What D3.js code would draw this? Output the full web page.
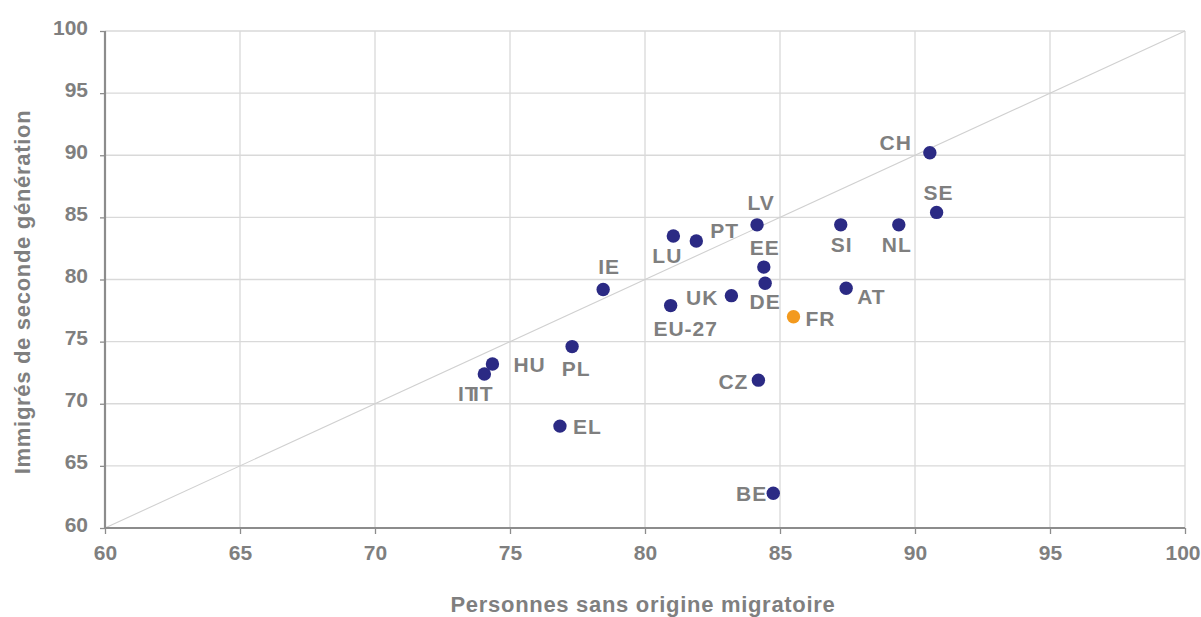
<!DOCTYPE html>
<html>
<head>
<meta charset="utf-8">
<script src="https://cdn.jsdelivr.net/npm/d3@7"></script>
<style>
  body { margin: 0; background: #fff; }
  text { font-family: "Liberation Sans", Arial, sans-serif; font-weight: bold; fill: #7f7f7f; }
</style>
</head>
<body>
<div id="wrapper"></div>
<script>
// data
const countries = ["CH", "SE", "NL", "SI", "LV", "PT", "LU", "EE", "DE", "IE", "AT", "UK", "EU-27", "FR", "PL", "HU", "IT", "CZ", "EL", "BE"]
const withoutOrigin = [90.55, 90.8, 89.4, 87.25, 84.15, 81.9, 81.05, 84.4, 84.45, 78.45, 87.45, 83.2, 80.95, 85.5, 77.3, 74.35, 74.05, 84.2, 76.85, 84.75]
const secondGen = [90.2, 85.4, 84.4, 84.4, 84.4, 83.1, 83.5, 81.0, 79.7, 79.2, 79.3, 78.7, 77.9, 77.0, 74.6, 73.2, 72.4, 71.9, 68.2, 62.8]
const ticks = [60, 65, 70, 75, 80, 85, 90, 95, 100]

const xAxisLabelText = "Personnes sans origine migratoire"
const yAxisLabelText = "Immigrés de seconde génération"

const dataset = countries.map((c, i) => ({ code: c, x: withoutOrigin[i], y: secondGen[i] }))

// label placement relative to the dot: [dx, dy, anchor]
const labelPos = {
    "CH": [[-18, -3, "end"]],
    "SE": [[2, -12, "middle"]],
    "NL": [[-2, 27, "middle"]],
    "SI": [[1, 27, "middle"]],
    "LV": [[4, -15, "middle"]],
    "PT": [[14, -3, "start"]],
    "LU": [[-6, 27, "middle"]],
    "EE": [[1, -12, "middle"]],
    "DE": [[0, 26, "middle"]],
    "IE": [[6, -15, "middle"]],
    "AT": [[11, 16, "start"]],
    "UK": [[-13, 9, "end"]],
    "EU-27": [[15, 30, "middle"]],
    "FR": [[12, 9, "start"]],
    "PL": [[4, 29, "middle"]],
    "HU": [[21, 8, "start"]],
    "IT": [[-16, 27, "middle"], [-1, 27, "middle"]],
    "CZ": [[-10, 9, "end"]],
    "EL": [[13, 8, "start"]],
    "BE": [[-6, 8, "end"]],
}

let dimensions = {
    width: 1201,
    height: 617,
    margin: { top: 31, right: 16, bottom: 89, left: 105 },
}
dimensions.boundedWidth = dimensions.width - dimensions.margin.left - dimensions.margin.right
dimensions.boundedHeight = dimensions.height - dimensions.margin.top - dimensions.margin.bottom

const wrapper = d3.select("#wrapper")
    .append("svg")
    .attr("width", dimensions.width)
    .attr("height", dimensions.height)

const bounds = wrapper.append("g")
    .attr("transform", `translate(${dimensions.margin.left},${dimensions.margin.top})`)

const xScale = d3.scaleLinear()
    .domain([60, 100])
    .range([0, dimensions.boundedWidth])

const yScale = d3.scaleLinear()
    .domain([60, 100])
    .range([dimensions.boundedHeight, 0])

// grid
bounds.append("g").selectAll("line")
    .data(ticks.slice(1))
    .join("line")
    .attr("x1", d => xScale(d)).attr("x2", d => xScale(d))
    .attr("y1", 0).attr("y2", dimensions.boundedHeight)
    .attr("stroke", "#d9d9d9").attr("stroke-width", 1.3)

bounds.append("g").selectAll("line")
    .data(ticks.slice(1))
    .join("line")
    .attr("x1", 0).attr("x2", dimensions.boundedWidth)
    .attr("y1", d => yScale(d)).attr("y2", d => yScale(d))
    .attr("stroke", "#d9d9d9").attr("stroke-width", 1.3)

// diagonal y = x
bounds.append("line")
    .attr("x1", xScale(60)).attr("y1", yScale(60))
    .attr("x2", xScale(100)).attr("y2", yScale(100))
    .attr("stroke", "#d0d0d0").attr("stroke-width", 1.1)

// axes
const xAxis = bounds.append("g")
    .attr("transform", `translate(0,${dimensions.boundedHeight})`)
    .call(d3.axisBottom(xScale).tickValues(ticks).tickSize(6).tickPadding(8))
const yAxis = bounds.append("g")
    .call(d3.axisLeft(yScale).tickValues(ticks).tickSize(5).tickPadding(12))

;[xAxis, yAxis].forEach(ax => {
    ax.select(".domain").attr("stroke", "#8c8c8c").attr("stroke-width", 2.2)
    ax.selectAll(".tick line").attr("stroke", "#8c8c8c").attr("stroke-width", 1.3)
    ax.selectAll(".tick text")
        .attr("fill", "#7f7f7f")
        .style("font-size", "21px")
        .style("font-family", "'Liberation Sans', Arial, sans-serif")
        .style("font-weight", "bold")
})
xAxis.select(".domain").attr("d", `M0,0H${dimensions.boundedWidth}`)
yAxis.select(".domain").attr("d", `M0,${dimensions.boundedHeight}V0`)
xAxis.selectAll(".tick text").attr("dy", "0").attr("y", 32)
yAxis.selectAll(".tick text").attr("dy", "0").attr("y", 3)
// keep the last x tick label inside the picture
xAxis.selectAll(".tick text").filter(d => d === 100)
    .attr("text-anchor", "end").attr("x", 15)

xAxis.append("text")
    .attr("x", 538)
    .attr("y", 84)
    .attr("text-anchor", "middle")
    .style("font-size", "22px")
    .style("letter-spacing", "0.7px")
    .text(xAxisLabelText)

yAxis.append("text")
    .attr("transform", "rotate(-90)")
    .attr("x", -(292 - dimensions.margin.top))
    .attr("y", -75)
    .attr("text-anchor", "middle")
    .style("font-size", "22px")
    .style("letter-spacing", "0.7px")
    .text(yAxisLabelText)

// dots
bounds.selectAll("circle")
    .data(dataset)
    .join("circle")
    .attr("cx", d => xScale(d.x))
    .attr("cy", d => yScale(d.y))
    .attr("r", 6.7)
    .attr("fill", d => d.code === "FR" ? "#f39a1e" : "#2b2a84")

// labels
const labelData = dataset.flatMap(d => labelPos[d.code].map(p => ({ ...d, dx: p[0], dy: p[1], anchor: p[2] })))
bounds.selectAll(".label")
    .data(labelData)
    .join("text")
    .attr("class", "label")
    .attr("x", d => xScale(d.x) + d.dx)
    .attr("y", d => yScale(d.y) + d.dy)
    .attr("text-anchor", d => d.anchor)
    .style("font-size", "21px")
    .style("letter-spacing", "1px")
    .text(d => d.code)
</script>
</body>
</html>
